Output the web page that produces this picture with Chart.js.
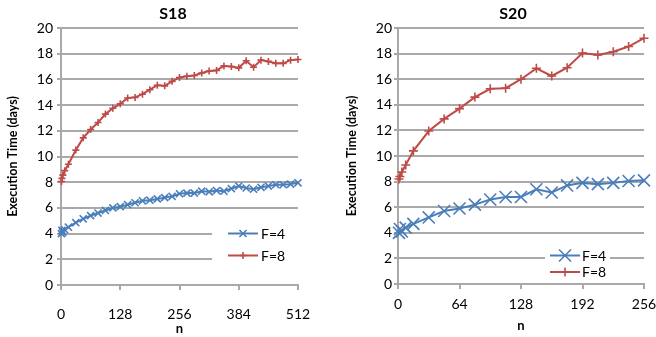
<!DOCTYPE html>
<html>
<head>
<meta charset="utf-8">
<script src="https://cdn.jsdelivr.net/npm/chart.js@4/dist/chart.umd.min.js"></script>
<style>
  html, body { margin: 0; padding: 0; background: #fff; overflow: hidden; width: 656px; height: 337px; }
  #wrap { position: relative; width: 656px; height: 337px; overflow: hidden; }
  canvas { position: absolute; top: 0; }
  #c18 { left: 0; }
  #c20 { left: 328px; }
</style>
</head>
<body>
<div id="wrap">
  <canvas id="c18" width="328" height="337" style="width:328px;height:337px"></canvas>
  <canvas id="c20" width="340" height="337" style="width:340px;height:337px"></canvas>
</div>
<script>
// ---- S18 run: execution time vs n ----
const s18N  = [1, 2, 4, 8, 16, 32, 48, 64, 80, 96, 112, 128, 144, 160, 176, 192, 208, 224,
               240, 256, 272, 288, 304, 320, 336, 352, 368, 384, 400, 416, 432, 448, 464, 480, 496, 512];
const s18F4 = [4.0, 4.25, 4.1, 4.3, 4.5, 4.85, 5.15, 5.4, 5.6, 5.8, 6.0, 6.1, 6.25, 6.4, 6.55, 6.6, 6.7, 6.8,
               6.9, 7.1, 7.15, 7.15, 7.3, 7.25, 7.35, 7.3, 7.5, 7.7, 7.55, 7.45, 7.6, 7.7, 7.8, 7.8, 7.85, 7.95];
const s18F8 = [8.05, 8.3, 8.55, 8.9, 9.4, 10.5, 11.45, 12.1, 12.65, 13.3, 13.75, 14.1, 14.55, 14.6, 14.85, 15.2, 15.55, 15.5,
               15.85, 16.15, 16.25, 16.3, 16.5, 16.65, 16.7, 17.05, 17.0, 16.9, 17.45, 16.95, 17.5, 17.4, 17.25, 17.25, 17.5, 17.55];
const s18Ticks = [0, 128, 256, 384, 512];

// ---- S20 run ----
const s20N  = [1, 2, 4, 8, 16, 32, 48, 64, 80, 96, 112, 128, 144, 160, 176, 192, 208, 224, 240, 256];
const s20F4 = [4.0, 4.3, 4.1, 4.4, 4.7, 5.2, 5.7, 5.9, 6.2, 6.6, 6.8, 6.8, 7.4, 7.15, 7.7, 7.9, 7.8, 7.9, 8.05, 8.1];
const s20F8 = [8.2, 8.4, 8.75, 9.3, 10.4, 11.95, 12.9, 13.7, 14.6, 15.25, 15.3, 16.0, 16.85, 16.25, 16.9, 18.05, 17.9, 18.15, 18.55, 19.2];
const s20Ticks = [0, 64, 128, 192, 256];

const yTicks = [0, 2, 4, 6, 8, 10, 12, 14, 16, 18, 20];
const seriesNames = ['F=4', 'F=8'];

const BLUE = '#4a7ebb';
const RED = '#be4b48';
const GRID = '#a9a9a9';
const FONT = 'Lato, "Open Sans", sans-serif';

const pts = (xs, ys) => xs.map((x, i) => ({ x: x, y: ys[i] }));

// Panel title drawn at a chosen centre
const panelTitle = {
  id: 'panelTitle',
  afterDraw(chart, args, opts) {
    const ctx = chart.ctx;
    ctx.save();
    ctx.font = 'bold 16px ' + FONT;
    ctx.fillStyle = '#000';
    ctx.textAlign = 'center';
    ctx.textBaseline = 'middle';
    ctx.fillText(opts.text, opts.x, opts.y);
    ctx.restore();
  }
};

// Legend box placed inside the plot, with a white background
const innerLegend = {
  id: 'innerLegend',
  afterDraw(chart, args, opts) {
    const ctx = chart.ctx;
    ctx.save();
    ctx.fillStyle = '#fff';
    ctx.fillRect(opts.box[0], opts.box[1], opts.box[2], opts.box[3]);
    chart.data.datasets.forEach((ds, i) => {
      const y = opts.rows[i];
      ctx.strokeStyle = ds.borderColor;
      ctx.lineWidth = 2;
      ctx.beginPath();
      ctx.moveTo(opts.lineX[0], y);
      ctx.lineTo(opts.lineX[1], y);
      ctx.stroke();
      ctx.fillStyle = ds.borderColor;
      ctx.lineWidth = ds.pointBorderWidth;
      Chart.helpers.drawPoint(ctx, {
        pointStyle: ds.pointStyle, radius: ds.pointRadius, rotation: 0, borderWidth: ds.pointBorderWidth
      }, (opts.lineX[0] + opts.lineX[1]) / 2, y);
      ctx.fillStyle = '#000';
      ctx.font = '14px ' + FONT;
      ctx.textAlign = 'left';
      ctx.textBaseline = 'middle';
      ctx.fillText(ds.label, opts.textX, y + 0.5);
    });
    ctx.restore();
  }
};

function makeChart(id, cfg) {
  return new Chart(document.getElementById(id), {
    type: 'line',
    data: {
      datasets: [
        {
          label: seriesNames[0], data: pts(cfg.n, cfg.f4),
          borderColor: BLUE, backgroundColor: BLUE, borderWidth: 2,
          pointStyle: 'crossRot', pointRadius: cfg.r4, pointBorderWidth: 1.6,
          pointBorderColor: BLUE, pointBackgroundColor: BLUE, tension: 0, clip: false
        },
        {
          label: seriesNames[1], data: pts(cfg.n, cfg.f8),
          borderColor: RED, backgroundColor: RED, borderWidth: 2,
          pointStyle: 'cross', pointRadius: cfg.r8, pointBorderWidth: 1.6,
          pointBorderColor: RED, pointBackgroundColor: RED, tension: 0, clip: false
        }
      ]
    },
    options: {
      responsive: false,
      animation: false,
      devicePixelRatio: 1,
      layout: { padding: { left: 0, right: cfg.padRight, top: 28, bottom: 0 } },
      plugins: {
        legend: { display: false },
        tooltip: { enabled: false },
        title: { display: false },
        panelTitle: cfg.title,
        innerLegend: cfg.legend
      },
      scales: {
        x: {
          type: 'linear', min: 0, max: cfg.ticks[cfg.ticks.length - 1],
          afterBuildTicks: s => { s.ticks = cfg.ticks.map(v => ({ value: v })); },
          afterFit: s => { s.height = cfg.xHeight; },
          grid: { drawOnChartArea: false, drawTicks: true, tickLength: 5, color: GRID, lineWidth: 2 },
          border: { display: true, color: GRID, width: 2 },
          ticks: { color: '#000', font: { family: FONT, size: 14 }, padding: cfg.xPad, maxRotation: 0, autoSkip: false },
          title: { display: true, text: 'n', color: '#000', font: { family: FONT, size: 13, weight: 'bold' },
                   padding: { top: 0, bottom: cfg.nPad } }
        },
        y: {
          type: 'linear', min: 0, max: 20,
          afterBuildTicks: s => { s.ticks = yTicks.map(v => ({ value: v })); },
          afterFit: s => { s.width = cfg.yWidth; },
          grid: { drawOnChartArea: true, drawTicks: true, tickLength: 4, color: GRID, lineWidth: 2 },
          border: { display: true, color: GRID, width: 2 },
          ticks: { color: '#000', font: { family: FONT, size: 14 }, padding: cfg.yPad },
          title: { display: true, text: 'Execution Time (days)', color: '#000',
                   font: { family: FONT, size: 12.5, weight: 'bold' }, padding: { top: cfg.yTitlePad, bottom: 0 } }
        }
      }
    },
    plugins: [panelTitle, innerLegend]
  });
}

makeChart('c18', {
  n: s18N, f4: s18F4, f8: s18F8, ticks: s18Ticks,
  r4: 5, r8: 3.5,
  padRight: 30, xHeight: 52, xPad: 16, nPad: 0, yWidth: 61, yPad: 4, yTitlePad: 5,
  title: { text: 'S18', x: 173, y: 13.5 },
  legend: { box: [212, 221, 95, 52], rows: [233.5, 255.5], lineX: [228, 258], textX: 261 }
});

makeChart('c20', {
  n: s20N, f4: s20F4, f8: s20F8, ticks: s20Ticks,
  r4: 8.5, r8: 4.5,
  padRight: 24, xHeight: 53, xPad: 7, nPad: 3, yWidth: 70, yPad: 2, yTitlePad: 16,
  title: { text: 'S20', x: 185, y: 14 },
  legend: { box: [217, 245, 65, 36], rows: [255.5, 272], lineX: [222, 252], textX: 254 }
});
</script>
</body>
</html>
